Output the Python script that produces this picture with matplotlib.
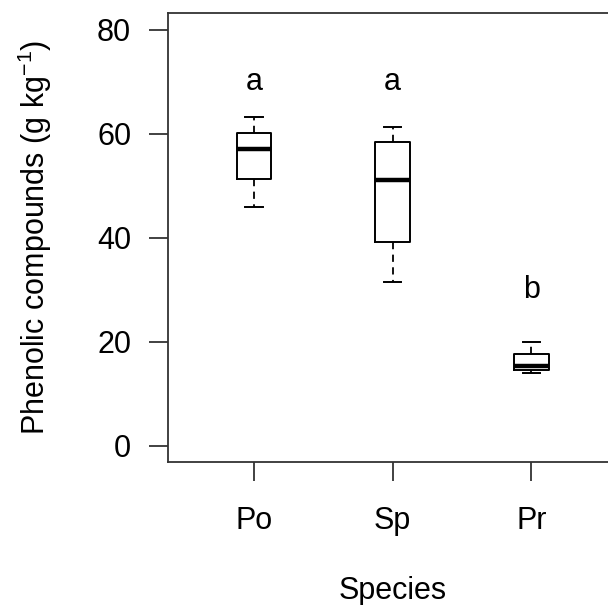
import matplotlib
matplotlib.use('Agg')
import matplotlib.pyplot as plt

plt.rcParams['font.family'] = ['Liberation Sans', 'DejaVu Sans']

species = ['Po', 'Sp', 'Pr']
lower_whisker = [46.0, 31.5, 13.9]
q1 = [51.4, 39.2, 14.6]
median = [57.0, 51.2, 15.3]
q3 = [60.2, 58.4, 17.6]
upper_whisker = [63.3, 61.3, 20.0]
letters = ['a', 'a', 'b']
letter_y = [70, 70, 30]

stats = []
for i in range(len(species)):
    stats.append({'label': species[i], 'whislo': lower_whisker[i], 'q1': q1[i],
                  'med': median[i], 'q3': q3[i], 'whishi': upper_whisker[i],
                  'fliers': []})

fig = plt.figure(figsize=(6.08, 6.05), dpi=100)
# plot box runs past the right edge, as in the original
ax = fig.add_axes([0.2763, 0.2359, 0.7392, 0.742])

pos = [1, 2, 3]
ax.bxp(stats, positions=pos, widths=0.25, showfliers=False,
       boxprops=dict(color='black', linewidth=1.4),
       medianprops=dict(color='black', linewidth=3.2),
       whiskerprops=dict(color='black', linewidth=1.3, linestyle=(0, (4, 3))),
       capprops=dict(color='black', linewidth=1.4),
       capwidths=0.125)

for x, t, y in zip(pos, letters, letter_y):
    ax.text(x, y, t, ha='center', va='center', fontsize=22)

ax.set_xlim(0.38, 3.62)
ax.set_ylim(-3.2, 83.2)
ax.set_yticks([0, 20, 40, 60, 80])
ax.set_xticks(pos)
ax.set_xticklabels(species)

for s in ax.spines.values():
    s.set_linewidth(1.3)
    s.set_color('#333333')

ax.tick_params(axis='both', direction='out', length=13.5, width=1.3,
               color='#333333', labelsize=22, pad=18)
ax.tick_params(axis='y', pad=13)

ax.set_xlabel('Species', fontsize=22, labelpad=29)
ax.set_ylabel('Phenolic compounds (g kg$^{\\mathregular{-1}}$)', fontsize=22,
              labelpad=31)

fig.savefig('out.png', dpi=100)
